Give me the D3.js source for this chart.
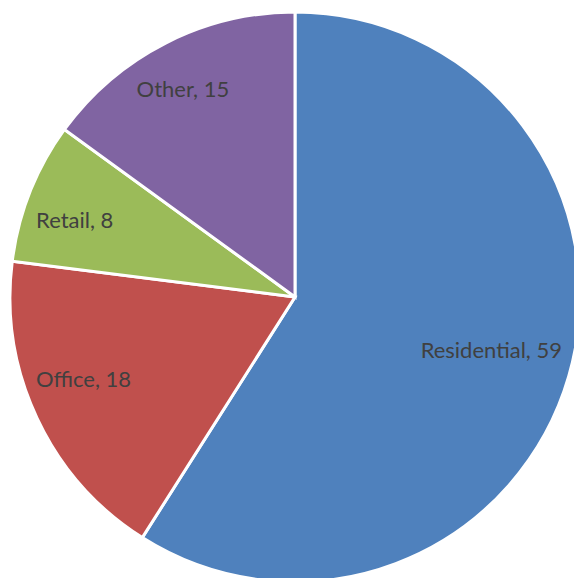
<!DOCTYPE html>
<html>
<head>
<meta charset="utf-8">
<script src="https://cdn.jsdelivr.net/npm/d3@7"></script>
<style>
  html, body { margin: 0; padding: 0; background: #fff; }
  svg text { font-family: "Lato", "Open Sans", sans-serif; }
</style>
</head>
<body>
<div id="chart"></div>
<script>
// chart data
const categories = ["Residential", "Office", "Retail", "Other"];
const values = [59, 18, 8, 15];
const colors = ["#4F81BD", "#C0504D", "#9BBB59", "#8064A2"];

const width = 574, height = 578;
const cx = 295, cy = 297, radius = 285;

const svg = d3.select("#chart").append("svg")
    .attr("width", width)
    .attr("height", height);

const g = svg.append("g").attr("transform", `translate(${cx},${cy})`);

const data = categories.map((c, i) => ({ name: c, value: values[i], color: colors[i] }));

const pie = d3.pie().value(d => d.value).sort(null);
const arc = d3.arc().innerRadius(0).outerRadius(radius);

const arcs = pie(data);

g.selectAll("path.slice")
    .data(arcs)
    .join("path")
    .attr("class", "slice")
    .attr("d", arc)
    .attr("fill", d => d.data.color)
    .attr("stroke", "#fff")
    .attr("stroke-width", 3)
    .attr("stroke-linejoin", "miter");

// label position: big slice a bit closer to centre, like Excel best fit
const labelR = d => (d.endAngle - d.startAngle > Math.PI ? 0.71 : 0.82) * radius;
// small hand nudges so labels sit where Excel put them
const nudge = { Residential: [2, -3], Office: [0, -17], Retail: [-3, 9], Other: [-6, 1] };

g.selectAll("text.label")
    .data(arcs)
    .join("text")
    .attr("class", "label")
    .attr("transform", d => {
        const r = labelR(d);
        const [x, y] = d3.arc().innerRadius(r).outerRadius(r).centroid(d);
        const [nx, ny] = nudge[d.data.name] || [0, 0];
        return `translate(${x + nx},${y + ny})`;
    })
    .attr("text-anchor", "middle")
    .attr("dy", "0.35em")
    .attr("fill", "#404040")
    .style("font-size", "22px")
    .text(d => `${d.data.name}, ${d.data.value}`);
</script>
</body>
</html>
